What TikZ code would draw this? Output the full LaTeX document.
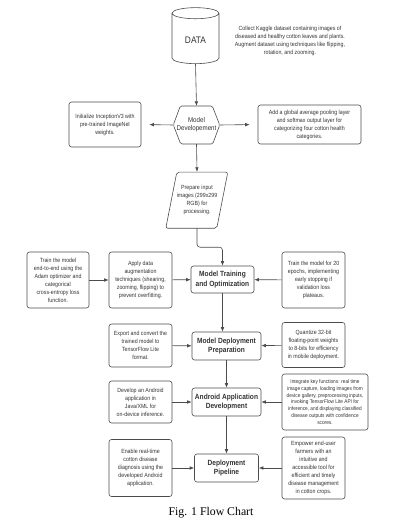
\documentclass[tikz,border=0pt]{standalone}
\usepackage{fontspec}
\setmainfont{Liberation Sans}[FakeStretch=0.88]
\newfontfamily\capfont{Liberation Serif}
\usetikzlibrary{arrows.meta,shapes.geometric}
\begin{document}
\begin{tikzpicture}[x=1pt,y=-1pt,
  line/.style={draw=black!70, line width=0.6pt},
  box/.style={line, rounded corners=2.5pt, align=center, inner sep=1pt, text=black!80, font=\fontsize{6}{8}\selectfont},
  mainbox/.style={box, font=\fontsize{7.5}{9.3}\selectfont\bfseries},
  arr/.style={line, -{Latex[length=4.5pt,width=3.6pt]}}]
\useasboundingbox (0,0) rectangle (410,521);
% data source
\node[cylinder, shape border rotate=90, aspect=0.4, line, minimum width=47pt, minimum height=56pt, text=black!80, font=\fontsize{9.5}{11}\selectfont] (data) at (195.5,40) {DATA};
\node[align=center, text=black!80, font=\fontsize{6}{8}\selectfont] (datanote) at (290,40.5) {Collect Kaggle dataset containing images of\\diseased and healthy cotton leaves and plants.\\Augment dataset using techniques like flipping,\\rotation, and zooming.};
% model development
\node[minimum width=46pt, minimum height=38pt, inner sep=0pt, align=center, text=black!80, font=\fontsize{7}{8}\selectfont] (dev) at (196.5,125) {Model\\Developement};
\draw[line, rounded corners=1.5pt] (dev.west) -- ++(7,-19) -- ++(32,0) -- (dev.east) -- ++(-7,19) -- ++(-32,0) -- cycle;
\node[box, minimum width=72pt, minimum height=45pt] (init) at (105,124.5) {Initialize InceptionV3 with\\pre-trained ImageNet\\weights.};
\node[box, minimum width=103pt, minimum height=39pt] (pool) at (309.5,124.5) {Add a global average pooling layer\\and softmax output layer for\\categorizing four cotton health\\categories.};
\node[minimum width=51pt, minimum height=56pt, inner sep=0pt, align=center, text=black!80, font=\fontsize{6}{8}\selectfont] (prep) at (197,200) {Prepare input\\images (299x299\\RGB) for\\processing.};
\draw[line, rounded corners=2pt] (prep.south west) ++(-5.5,0) -- ++(11,-56) -- ++(51,0) -- ++(-11,56) -- cycle;
% training
\node[box, minimum width=62pt, minimum height=56pt] (e2e) at (58,280) {Train the model\\end-to-end using the\\Adam optimizer and\\categorical\\cross-entropy loss\\function.};
\node[box, minimum width=63pt, minimum height=56pt] (aug) at (140.5,280) {Apply data\\augmentation\\techniques (shearing,\\zooming, flipping) to\\prevent overfitting.};
\node[mainbox, minimum width=63pt, minimum height=27pt] (train) at (222.5,279.5) {Model Training\\and Optimization};
\node[box, minimum width=63pt, minimum height=56pt] (epochs) at (313.5,280) {Train the model for 20\\epochs, implementing\\early stopping if\\validation loss\\plateaus.};
% deployment preparation
\node[box, minimum width=63pt, minimum height=43pt] (export) at (140.5,345.5) {Export and convert the\\trained model to\\TensorFlow Lite\\format.};
\node[mainbox, minimum width=69pt, minimum height=28pt] (deploy) at (226.5,346) {Model Deployment\\Preparation};
\node[box, minimum width=63pt, minimum height=45pt] (quant) at (313.5,345) {Quantize 32-bit\\floating-point weights\\to 8-bits for efficiency\\in mobile deployment.};
% android app
\node[box, minimum width=63pt, minimum height=42pt] (develop) at (140.5,402) {Develop an Android\\application in\\Java/XML for\\on-device inference.};
\node[mainbox, minimum width=69pt, minimum height=28pt] (android) at (226.5,402) {Android Application\\Development};
\node[box, minimum width=86pt, minimum height=56pt, font=\fontsize{5.4}{6.8}\selectfont] (integrate) at (325,402) {Integrate key functions: real time\\image capture, loading images from\\device gallery, preprocessing inputs,\\invoking TensorFlow Lite API for\\inference, and displaying classified\\disease outputs with confidence\\scores.};
% pipeline
\node[box, minimum width=63pt, minimum height=57pt] (enable) at (140.5,468) {Enable real-time\\cotton disease\\diagnosis using the\\developed Android\\application.};
\node[mainbox, minimum width=64pt, minimum height=28pt] (pipeline) at (226.5,468) {Deployment\\Pipeline};
\node[box, minimum width=63pt, minimum height=62pt] (empower) at (313.5,468) {Empower end-user\\farmers with an\\intuitive and\\accessible tool for\\efficient and timely\\disease management\\in cotton crops.};
\node[font=\capfont\fontsize{11.8}{13}\selectfont] (caption) at (211,513) {Fig. 1 Flow Chart};
% connectors
\draw[arr] (data.south) -- (dev.north);
\draw[arr, shorten >=8pt] (dev.west) -- (init.east);
\draw[arr, shorten >=8pt] (dev.east) -- (pool.west);
\draw[arr] (dev.south) -- (prep.north);
\draw[arr, rounded corners=3pt] (prep.south) -- ++(0,19) -| (train.north);
\draw[arr] (train.south) -- (train.south |- deploy.north);
\foreach \From/\To in {e2e/aug,aug/train,epochs/train,export/deploy,quant/deploy,deploy/android,develop/android,integrate/android,android/pipeline,enable/pipeline,empower/pipeline}{
    \draw[arr] (\From) -- (\To);
}
\end{tikzpicture}
\end{document}
